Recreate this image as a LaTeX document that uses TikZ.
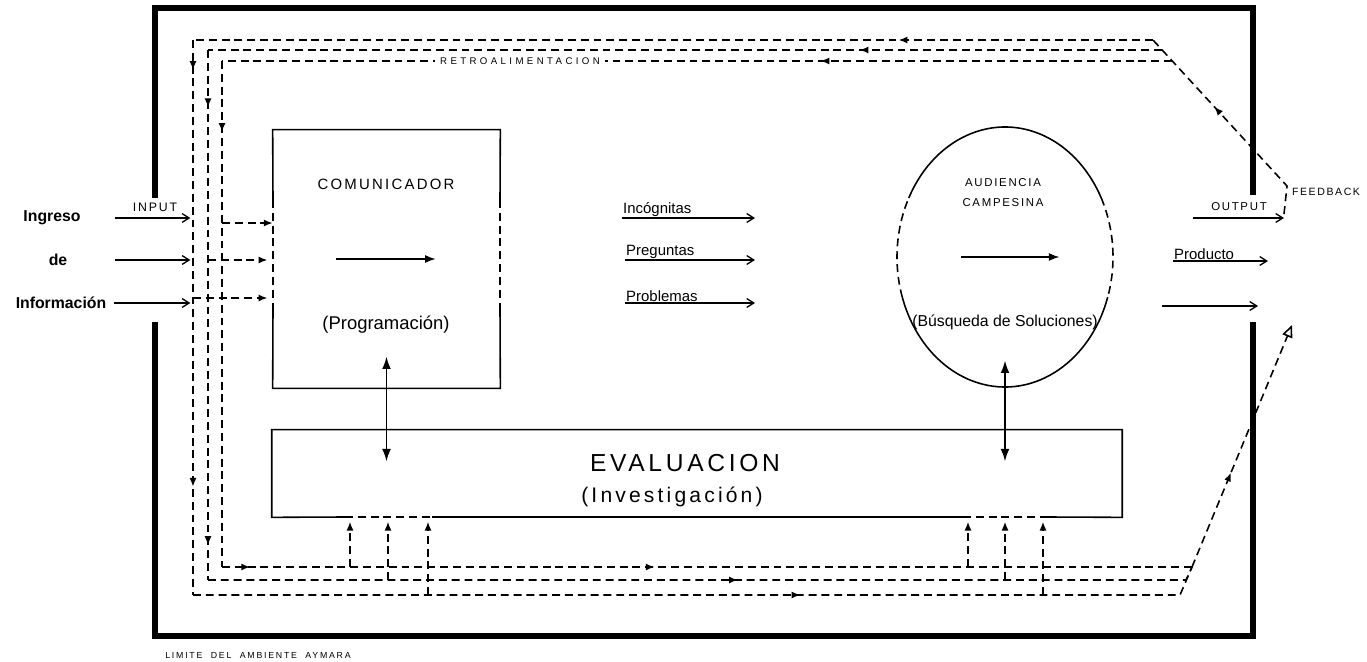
\documentclass[tikz,border=0pt]{standalone}
\usepackage{fontspec}
\setmainfont{Liberation Sans}
\newfontfamily\spacedfont[LetterSpace=15]{Liberation Sans}
\newfontfamily\widefont[LetterSpace=35]{Liberation Sans}
\newfontfamily\limfont[LetterSpace=20]{Liberation Sans}
\newcommand{\fsz}[1]{\fontsize{#1}{#1}\selectfont}
\usetikzlibrary{arrows.meta,decorations.markings}

\begin{document}
\begin{tikzpicture}[x=0.02cm,y=-0.02cm,
  every node/.style={inner sep=1pt},
  wall/.style={line width=3pt},
  outl/.style={line width=0.9pt},
  fb/.style={line width=0.9pt,dash pattern=on 4.5pt off 2.8pt},
  flow/.style={line width=0.75pt,-{Straight Barb[length=4pt,width=5pt]}},
  solidtip/.style={line width=0.85pt,-{Latex[length=6pt,width=4.5pt]}},
  fbtip/.style={fb,-{Latex[length=5pt,width=4pt]}},
  dbl/.style={line width=0.85pt,{Latex[length=7pt,width=5pt]}-{Latex[length=7pt,width=5pt]}},
  arrowat/.style={postaction=decorate,decoration={markings,
     mark=at position #1 with {\arrow[solid]{Latex[length=5pt,width=4pt]}}}},
  arrowtwo/.style 2 args={postaction=decorate,decoration={markings,
     mark=at position #1 with {\arrow[solid]{Latex[length=5pt,width=4pt]}},
     mark=at position #2 with {\arrow[solid]{Latex[length=5pt,width=4pt]}}}},
  frame/.style={draw=none,minimum width=#1},
  capsA/.style={font=\spacedfont\fsz{8.5}},
  capsB/.style={font=\spacedfont\fsz{6.5}},
  big/.style={font=\spacedfont\fsz{14}},
  sub/.style={font=\fsz{10.5}},
  lbl/.style={font=\fsz{8.5},inner sep=0.5pt},
  hand/.style={font=\bfseries\fsz{9}},
  tag/.style={font=\widefont\fsz{5.5}}]

\fill[white] (0,0) rectangle (1367,662);

% limite del ambiente
\draw[wall] (155,198) -- (155,8) -- (1253,8) -- (1253,195);
\draw[wall] (155,322) -- (155,636) -- (1253,636) -- (1253,322);
\node[font=\limfont\fsz{5}] (limite) at (258,655) {LIMITE\ \ DEL\ \ AMBIENTE\ \ AYMARA};

% boxes
\node[frame=4.54cm,minimum height=5.16cm] (com) at (386.5,259) {};
\node[frame=17cm,minimum height=1.74cm] (ev) at (697,473.5) {};
\coordinate (audC) at (1005,257);
\coordinate (audB) at (1005,387);
\coordinate (audE) at (ev.north -| audB);

\draw[outl] (273,200) -- (com.north west) -- (com.north east) -- (500,200);
\draw[outl] (273,308) -- (com.south west) -- (com.south east) -- (500,308);
\draw[fb] (273,200) -- (273,308) (500,200) -- (500,308);

\draw[outl] (345,517) -- (ev.south west) -- (ev.north west) -- (ev.north east)
  -- (ev.south east) -- (1048,517);
\draw[outl] (432,517) -- (963,517);
\draw[fb] (345,517) -- (432,517) (963,517) -- (1048,517);

\draw[outl] (audC) ++(-153:108 and 130) arc[start angle=-153,end angle=-27,x radius=108,y radius=130];
\draw[outl] (audC) ++(18:108 and 130) arc[start angle=18,end angle=162,x radius=108,y radius=130];
\draw[fb] (audC) ++(-27:108 and 130) arc[start angle=-27,end angle=18,x radius=108,y radius=130];
\draw[fb] (audC) ++(162:108 and 130) arc[start angle=162,end angle=207,x radius=108,y radius=130];

% texts in the boxes
\node[capsA] (comT) at (386,184) {COMUNICADOR};
\node[sub] (prog) at (386,325) {(Programación)};
\node[big] (evT) at (685,463) {EVALUACION};
\node[font=\spacedfont\fsz{12}] (inv) at (672,497) {(Investigación)};
\node[capsB] (audT) at (1003,183) {AUDIENCIA};
\node[capsB] (campT) at (1003,203) {CAMPESINA};
\node[font=\fsz{9}] (busq) at (1005,322) {(Búsqueda de Soluciones)};

\draw[solidtip] ([xshift=-29pt]com.center) -- ([xshift=28pt]com.center);
\draw[solidtip] ([xshift=-25pt]audC) -- ([xshift=31pt]audC);
\draw[dbl] ([yshift=18pt]com.south) -- ([yshift=-18pt]com.south |- ev.north);
\draw[dbl] ([yshift=15pt]audB) -- ([yshift=-18pt]audE);

% feedback loops
\coordinate (fbOut) at (1284,214);
\coordinate (fbKnee) at (1287,186);
\coordinate (fbIn) at (1292,325);
\coordinate (t1) at (1153,40);  \coordinate (tl1) at (193,40);
\coordinate (t2) at (1162,50);  \coordinate (tl2) at (208,50);
\coordinate (t3) at (1172,61);  \coordinate (tl3) at (222,61);
\coordinate (bl1) at (193,595); \coordinate (br1) at (1180,595);
\coordinate (bl2) at (208,580); \coordinate (br2) at (1186,580);
\coordinate (bl3) at (222,567); \coordinate (br3) at (1192,567);

\draw[fb,arrowat=0.6] (fbOut) -- (fbKnee) -- (t1);
\draw[fb,arrowat=0.265] (t1) -- (tl1);
\draw[fb,arrowtwo={0.054}{0.805}] (tl1) -- (bl1);
\draw[fb,arrowat=0.597] (bl1) -- (br1) -- (br3);
\draw[fb,arrowat=0.317] (t2) -- (tl2);
\draw[fb,arrowtwo={0.108}{0.934}] (tl2) -- (bl2);
\draw[fb,arrowat=0.534] (bl2) -- (br2) -- (br3);
\draw[fb,arrowat=0.37] (t3) -- (tl3);
\draw[fb,arrowat=0.14] (tl3) -- (bl3);
\draw[fb,arrowtwo={0.029}{0.446}] (bl3) -- (br3);
\draw[fb,arrowat=0.39,-{Triangle[open,length=7pt,width=6pt]}] (br3) -- (fbIn);
\node[tag,fill=white,inner xsep=3pt] (retro) at (520,61) {RETROALIMENTACION};

% into evaluacion
\foreach \x/\y in {350/567,388/580,428/595,968/567,1005/580,1043/595}
  \draw[fbtip,shorten >=2.5pt] (\x,\y) -- (\x,\y |- ev.south);

% into comunicador
\draw[fbtip] (tl3 |- 0,223) -- (com.west |- 0,223);
\draw[fbtip] (tl2 |- 0,260) -- ([xshift=-3pt]com.west |- 0,260);
\draw[fbtip] (tl1 |- 0,298) -- ([xshift=-3pt]com.west |- 0,298);

% input
\node[hand] (ingreso) at (52,218) {Ingreso};
\node[hand] (de) at (58,260) {de};
\node[hand] (info) at (61,303) {Información};
\node[capsB,font=\spacedfont\fsz{7}] (input) at (155,207) {INPUT};
\draw[flow,shorten >=1.5pt] (115,218) -- (tl1 |- ingreso);
\draw[flow,shorten >=1.5pt] (115,260) -- (tl1 |- de);
\draw[flow,shorten >=1.5pt] (114,303) -- (tl1 |- info);

% messages
\node[lbl,anchor=south west] (inc) at (622,218) {Incógnitas};
\node[lbl,anchor=south west] (preg) at (625,260) {Preguntas};
\node[lbl,anchor=south west] (prob) at (625,303) {Problemas};
\draw[flow] (inc.south west) -- ++(133,0);
\draw[flow] (preg.south west) -- ++(130,0);
\draw[flow] (prob.south west) -- ++(130,0);

% output
\node[capsB] (output) at (1239,207) {OUTPUT};
\node[capsB,font=\spacedfont\fsz{6},anchor=west] (feedb) at (1290,192) {FEEDBACK};
\node[lbl,anchor=south west] (prod) at (1173,261) {Producto};
\draw[flow] (1193,218) -- (fbOut |- 0,218);
\draw[flow] (prod.south west) -- ++(95,0);
\draw[flow] (1162,306) -- ++(96,0);
\end{tikzpicture}
\end{document}
